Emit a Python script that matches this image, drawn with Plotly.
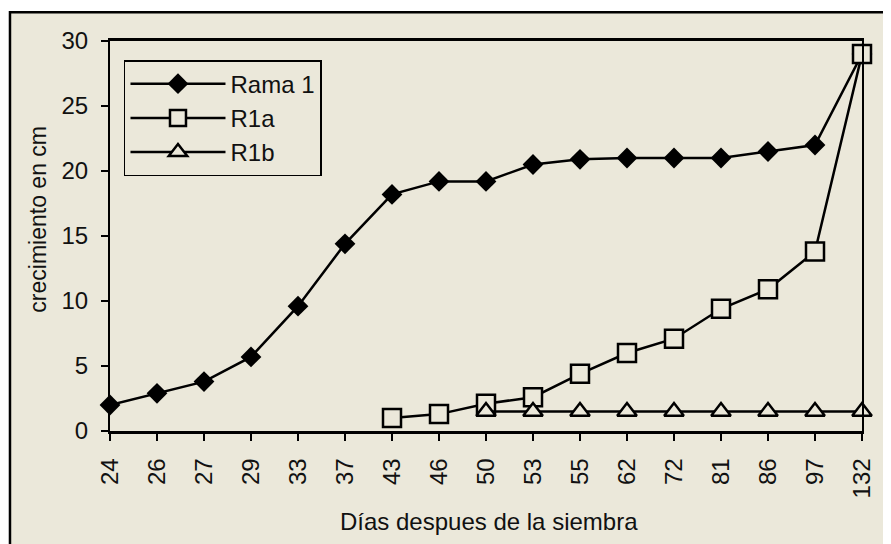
import plotly.graph_objects as go

dias = ["24", "26", "27", "29", "33", "37", "43", "46", "50", "53", "55", "62", "72", "81", "86", "97", "132"]
rama1 = [2.0, 2.9, 3.8, 5.7, 9.6, 14.4, 18.2, 19.2, 19.2, 20.5, 20.9, 21.0, 21.0, 21.0, 21.5, 22.0, 29.0]
r1a = [None, None, None, None, None, None, 1.0, 1.3, 2.1, 2.6, 4.4, 6.0, 7.1, 9.4, 10.9, 13.8, 29.0]
r1b = [None, None, None, None, None, None, None, None, 1.5, 1.5, 1.5, 1.5, 1.5, 1.5, 1.5, 1.5, 1.5]

x_title = "Días despues de la siembra"
y_title = "crecimiento en cm"

BG = "#ebe8da"
FONT = "Liberation Sans, Arial, sans-serif"

fig = go.Figure()
fig.add_trace(go.Scatter(
    x=dias, y=rama1, name="Rama 1", mode="lines+markers", legendgroup="a",
    line=dict(color="black", width=2.5),
    marker=dict(symbol="diamond", size=16, color="black"),
    cliponaxis=False,
))
fig.add_trace(go.Scatter(
    x=dias, y=r1a, name="R1a", mode="lines+markers", legendgroup="b",
    line=dict(color="black", width=2.5),
    marker=dict(symbol="square", size=18, color=BG, line=dict(color="black", width=2.5)),
    cliponaxis=False,
))
fig.add_trace(go.Scatter(
    x=dias, y=r1b, name="R1b", mode="lines+markers", legendgroup="c",
    line=dict(color="black", width=2.5),
    marker=dict(symbol="triangle-up", size=17, color=BG, line=dict(color="black", width=2.5)),
    cliponaxis=False,
))

fig.add_shape(type="rect", xref="paper", yref="paper",
              x0=-0.133, x1=1.036, y0=-0.32, y1=1.074,
              fillcolor=BG, line=dict(color="black", width=2.5), layer="below")

fig.add_annotation(text=x_title, xref="paper", yref="paper", x=0.504, y=-0.231,
                   xanchor="center", yanchor="middle", showarrow=False,
                   font=dict(size=24, family=FONT, color="#111"))
fig.add_annotation(text=y_title, xref="paper", yref="paper", x=-0.096, y=0.544,
                   xanchor="center", yanchor="middle", showarrow=False, textangle=-90,
                   font=dict(size=23, family=FONT, color="#111"))

fig.update_layout(
    width=883, height=536,
    margin=dict(l=102, r=29, t=33, b=113, pad=0),
    paper_bgcolor="white",
    plot_bgcolor="rgba(0,0,0,0)",
    font=dict(family=FONT, color="#111", size=24),
    showlegend=True,
    legend=dict(
        x=0.0186, y=0.951, xanchor="left", yanchor="top",
        bgcolor=BG, bordercolor="black", borderwidth=1.5,
        font=dict(size=24, family=FONT),
        traceorder="grouped", tracegroupgap=0,
        itemwidth=95, entrywidth=120, entrywidthmode="pixels",
    ),
    xaxis=dict(
        type="category", categoryorder="array", categoryarray=dias,
        range=[0, 16], showgrid=False, zeroline=False,
        showline=True, linecolor="black", linewidth=2.5, mirror=True,
        ticks="outside", ticklen=7, tickcolor="black", tickwidth=1.5,
        tickangle=-90, tickfont=dict(size=24), ticklabelstandoff=8,
    ),
    yaxis=dict(
        range=[0, 30], dtick=5, showgrid=False, zeroline=False,
        showline=True, linecolor="black", linewidth=2, mirror=True,
        ticks="outside", ticklen=7, tickcolor="black", tickwidth=1.5,
        tickfont=dict(size=24), ticklabelstandoff=8,
    ),
)

fig.write_html("out.html")
